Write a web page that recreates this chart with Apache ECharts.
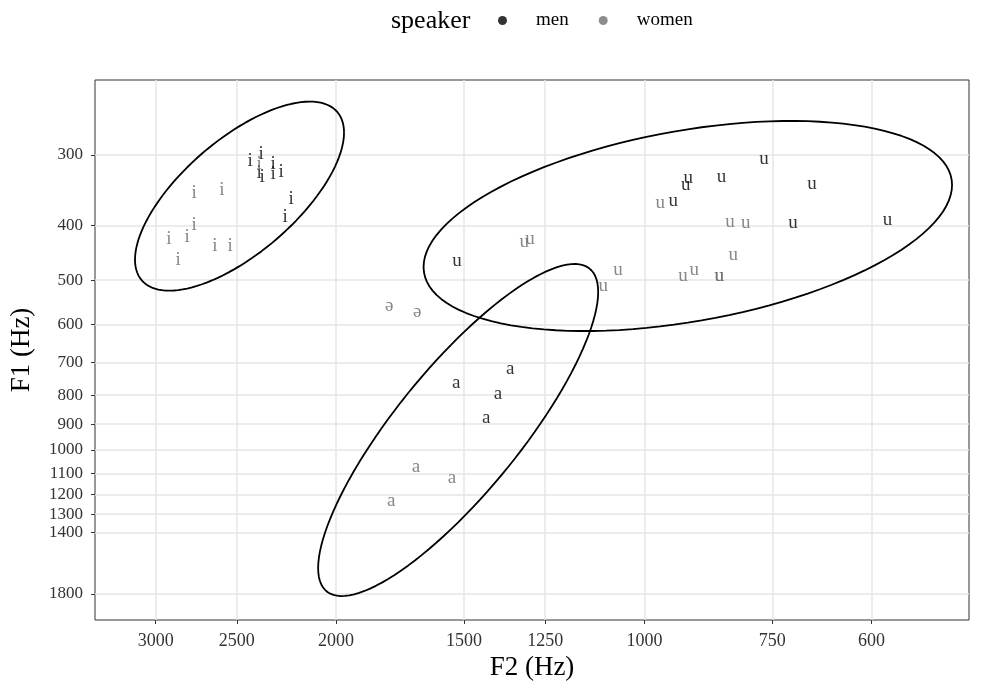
<!DOCTYPE html>
<html>
<head>
<meta charset="utf-8">
<script src="https://cdn.jsdelivr.net/npm/echarts@6/dist/echarts.min.js"></script>
<style>html,body{margin:0;padding:0;background:#fff}#c{width:985px;height:681px}</style>
</head>
<body>
<div id="c"></div>
<script>
// ---- data ----
const xTicks = [3000, 2500, 2000, 1500, 1250, 1000, 750, 600];
const yTicks = [300, 400, 500, 600, 700, 800, 900, 1000, 1100, 1200, 1300, 1400, 1800];

const menVowel = ['i','i','i','i','i','i','i','i','i',
                  'u','u','u','u','u','u','u','u','u',
                  'a','a','a','a'];
const menF2 = [2427, 2367, 2304, 2263, 2304, 2378, 2362, 2213, 2243,
               764, 906, 911, 841, 937, 686, 579, 716, 1524,
               1352, 1527, 1390, 1427];
const menF1 = [307, 299, 311, 322, 325, 323, 328, 359, 386,
               305, 330, 339, 328, 362, 338, 391, 396, 462,
               719, 761, 796, 878];

const womenVowel = ['i','i','i','i','i','i','i','i','i',
                    'u','u','u','u','u','u','u','u','u','u','u','u',
                    'ə','ə',
                    'a','a','a'];
const womenF2 = [2752, 2585, 2752, 2912, 2796, 2626, 2538, 2853, 2378,
                 965, 825, 796, 819, 917, 894, 845, 845, 1310, 1293, 1061, 1097,
                 1775, 1667,
                 1671, 1541, 1767];
const womenF1 = [350, 346, 399, 423, 419, 435, 435, 460, 311,
                 365, 394, 396, 451, 492, 480, 492, 492, 428, 423, 480, 512,
                 556, 569,
                 1072, 1121, 1232];

// 95% ellipses per vowel (centre in Hz, spread in log units)
const ellipseVowel = ['i', 'u', 'a'];
const ellipseF2Centre = [2485, 907, 1520];
const ellipseF1Centre = [355, 401, 922];
const ellipseF2Spread = [0.2350, 0.5941, 0.3148];
const ellipseF1Tilt = [-0.2592, -0.1673, -0.5633];
const ellipseF1Spread = [0.2857, 0.3947, 0.3767];

// ---- build ----
const FONT = 'Liberation Serif';
function pts(v, f2, f1) { return v.map((s, i) => ({ name: s, value: [f2[i], f1[i]] })); }
function ellipsePath(k) {
  const out = [];
  const N = 120;
  for (let j = 0; j <= N; j++) {
    const t = 2 * Math.PI * j / N;
    const lx = Math.log(ellipseF2Centre[k]) - ellipseF2Spread[k] * Math.cos(t);
    const ly = Math.log(ellipseF1Centre[k]) + ellipseF1Tilt[k] * Math.cos(t) + ellipseF1Spread[k] * Math.sin(t);
    out.push([Math.exp(lx), Math.exp(ly)]);
  }
  return out;
}

const textSeries = (name, color, data) => ({
  name, type: 'scatter', data, symbolSize: 0,
  itemStyle: { color },
  label: { show: true, position: 'inside', formatter: '{b}', color, fontFamily: FONT, fontSize: 19 },
  emphasis: { disabled: true }, silent: true, z: 3
});

const series = [
  textSeries('men', '#000000', pts(menVowel, menF2, menF1)),
  textSeries('women', '#6a6a6a', pts(womenVowel, womenF2, womenF1))
];
ellipseVowel.forEach((v, k) => series.push({
  name: 'ellipse ' + v, type: 'line', data: ellipsePath(k), showSymbol: false,
  lineStyle: { color: '#000', width: 1.8 }, silent: true, z: 4, animation: false
}));

const chart = echarts.init(document.getElementById('c'), null, { renderer: 'canvas' });
chart.setOption({
  animation: false,
  backgroundColor: '#fff',
  title: { text: 'speaker', left: 386, top: 3, textStyle: { fontFamily: FONT, fontSize: 26, fontWeight: 'normal', color: '#000' } },
  legend: {
    data: [
      { name: 'men', itemStyle: { color: '#000' } },
      { name: 'women', itemStyle: { color: '#707070' } }
    ],
    left: 493, top: 6, icon: 'circle', itemWidth: 9, itemHeight: 9, itemGap: 30,
    textStyle: { fontFamily: FONT, fontSize: 19, color: '#000', padding: [0, 0, 0, 24] }
  },
  grid: { left: 95, right: 16, top: 80, bottom: 61, show: true, borderColor: '#333', borderWidth: 1,
          containLabel: false, outerBoundsMode: 'none' },
  xAxis: {
    type: 'log', inverse: true, min: 482, max: 3439,
    name: 'F2 (Hz)', nameLocation: 'middle', nameGap: 27,
    nameTextStyle: { fontFamily: FONT, fontSize: 27, color: '#000' },
    axisLine: { show: false },
    axisTick: { show: true, length: 4, customValues: xTicks, lineStyle: { color: '#333' } },
    axisLabel: { customValues: xTicks, fontFamily: FONT, fontSize: 18, color: '#333', margin: 12, formatter: v => String(Math.round(v)) },
    splitLine: { show: true, lineStyle: { color: '#e6e6e6', width: 1.5 } }
  },
  yAxis: {
    type: 'log', inverse: true, min: 221, max: 2002,
    name: 'F1 (Hz)', nameLocation: 'middle', nameGap: 60, nameRotate: 90,
    nameTextStyle: { fontFamily: FONT, fontSize: 27, color: '#000' },
    axisLine: { show: false },
    axisTick: { show: true, length: 4, customValues: yTicks, lineStyle: { color: '#333' } },
    axisLabel: { customValues: yTicks, fontFamily: FONT, fontSize: 17, color: '#333', margin: 12, formatter: v => String(Math.round(v)) },
    splitLine: { show: true, lineStyle: { color: '#e6e6e6', width: 1.5 } }
  },
  series
});
</script>
</body>
</html>
